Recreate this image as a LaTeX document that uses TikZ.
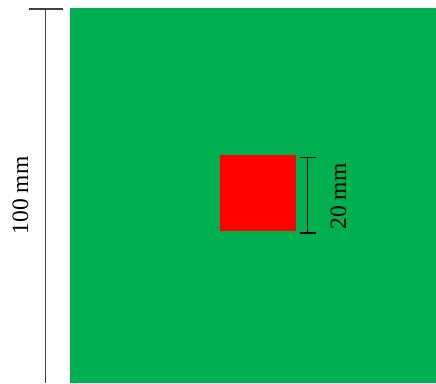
\documentclass[tikz,border=0pt]{standalone}
\usepackage{fontspec}
\setmainfont{Liberation Serif}
\usepackage{tikz}
\usetikzlibrary{calc}
\usetikzlibrary{positioning}
\definecolor{plategreen}{HTML}{00B050}
\definecolor{holered}{HTML}{FF0000}
\tikzset{
  dimline/.style={draw=black!75, line width=1.1pt},
  dimlabel/.style={rotate=90, font=\fontsize{23.5}{25}\selectfont, inner sep=0pt}
}

\begin{document}
\begin{tikzpicture}[x=1pt, y=1pt]

    \useasboundingbox (0, 0) rectangle (436, 383);

    % plate and hole
    \fill [plategreen] (70, 0) rectangle (436, 375);
    \fill [holered] (220, 152) rectangle (295.5, 228);

    % outer dimension
    \coordinate (outertop) at (45.5, 374);
    \coordinate (outerbot) at (45.5, 0);
    \draw [dimline] (outertop) -- (outerbot);
    \draw [dimline] ($(outertop)+(-17, 0)$) -- ($(outertop)+(17, 0)$);
    \node [dimlabel] (outerlabel) at (20.5, 187.5) {100 mm};

    % hole dimension
    \coordinate (holetop) at (307.5, 225.5);
    \coordinate (holebot) at (307.5, 150);
    \draw [dimline, draw=black] (holetop) -- (holebot);
    \draw [dimline, draw=black] ($(holetop)+(-7.5, 0)$) -- ($(holetop)+(8.5, 0)$);
    \draw [dimline, draw=black] ($(holebot)+(-7.5, 0)$) -- ($(holebot)+(8.5, 0)$);
    \node [dimlabel] (holelabel) at (338.5, 186.5) {20 mm};

  \end{tikzpicture}
\end{document}
